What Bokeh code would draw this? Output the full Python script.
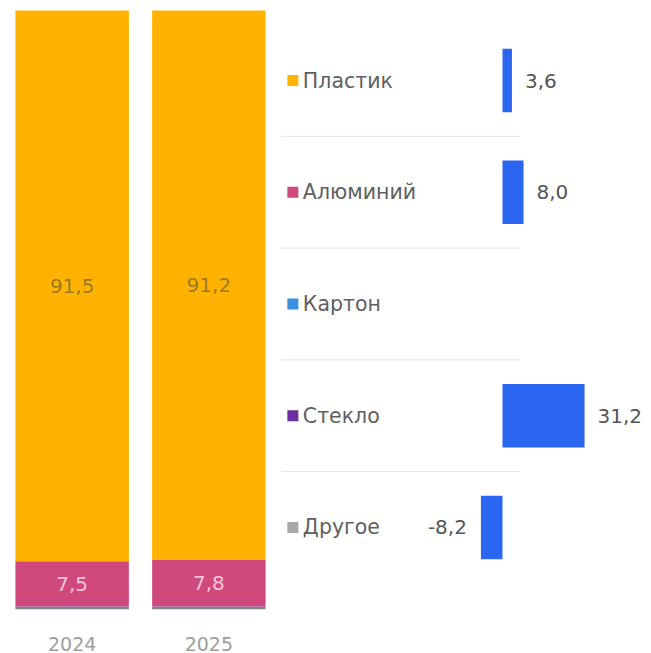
from bokeh.plotting import figure
from bokeh.layouts import row
from bokeh.models import Range1d, FactorRange, ColumnDataSource
from bokeh.core.properties import value
from bokeh.embed import file_html
from bokeh.resources import INLINE

# ---- data ----
years = ["2024", "2025"]
materials = ["Пластик", "Алюминий", "Картон", "Стекло", "Другое"]
share_plastic = [91.5, 91.2]
share_aluminium = [7.5, 7.8]
share_carton = [0.05, 0.05]
share_glass = [0.05, 0.05]
share_other = [0.4, 0.4]
change = [3.6, 8.0, None, 31.2, -8.2]
material_colors = ["#FFB300", "#D0497C", "#3B8FE0", "#6A2F9E", "#A8A8A8"]

FONT = "DejaVu Sans"
H = 653

def fmt(v):
    return f"{v:.1f}".replace(".", ",")

def style_bottom_axis(fig, color):
    fig.xaxis.axis_line_color = None
    fig.xaxis.major_tick_line_color = None
    fig.xaxis.minor_tick_line_color = None
    fig.xaxis.major_label_text_font = FONT
    fig.xaxis.major_label_text_font_size = "19px"
    fig.xaxis.major_label_text_color = color
    fig.xaxis.major_label_standoff = 21

# ---- left: stacked shares ----
left = figure(x_range=FactorRange(*years, range_padding=0.024, range_padding_units="absolute"),
              y_range=Range1d(0, 101.16),
              width=280, height=H, output_backend="svg", toolbar_location=None,
              min_border_left=0, min_border_right=0, min_border_top=0, min_border_bottom=0)

src = ColumnDataSource(dict(year=years, Другое=share_other, Стекло=share_glass, Картон=share_carton,
                            Алюминий=share_aluminium, Пластик=share_plastic))
stack_order = ["Другое", "Стекло", "Картон", "Алюминий", "Пластик"]
stack_colors = ["#7E868C", "#6A2F9E", "#3B8FE0", "#D0497C", "#FFB300"]
left.vbar_stack(stack_order, x="year", width=0.83, color=stack_colors, line_color=None, source=src)

bottoms_pl = [o + g + c + a for o, g, c, a in zip(share_other, share_glass, share_carton, share_aluminium)]
bottoms_al = [o + g + c for o, g, c in zip(share_other, share_glass, share_carton)]
lab_pl = ColumnDataSource(dict(x=years, y=[b + v / 2 for b, v in zip(bottoms_pl, share_plastic)],
                               t=[fmt(v) for v in share_plastic]))
lab_al = ColumnDataSource(dict(x=years, y=[b + v / 2 for b, v in zip(bottoms_al, share_aluminium)],
                               t=[fmt(v) for v in share_aluminium]))
left.text(x="x", y="y", text="t", source=lab_pl, text_align="center", text_baseline="middle",
          text_font=value(FONT), text_font_size="20px", text_color="#9A7B1E")
left.text(x="x", y="y", text="t", source=lab_al, text_align="center", text_baseline="middle",
          text_font=value(FONT), text_font_size="20px", text_color="#F6C6D8")

left.yaxis.visible = False
style_bottom_axis(left, "#9E9E9E")
left.grid.visible = False
left.outline_line_color = None

# ---- right: change bars with legend ----
idx = list(range(len(materials)))
right = figure(x_range=Range1d(-84.4, 56.65), y_range=Range1d(4.734, -0.716),
               width=371, height=H, output_backend="svg", toolbar_location=None,
               min_border_left=0, min_border_right=0, min_border_top=0, min_border_bottom=0)
right.yaxis.visible = False
style_bottom_axis(right, None)
right.grid.visible = False
right.outline_line_color = None

# separators between rows
right.segment(x0=-84.4, x1=6.8, y0=[i + 0.5 for i in idx[:-1]], y1=[i + 0.5 for i in idx[:-1]],
              line_color="#E6E6E6", line_width=1)

# legend
legend_x = -79.7
right.scatter(x=[legend_x] * len(materials), y=idx, marker="square", size=11,
              color=material_colors, line_color=None)
right.text(x=[legend_x] * len(materials), y=idx, text=materials, x_offset=10,
           text_align="left", text_baseline="middle", text_font=value(FONT),
           text_font_size="20.5px", text_color="#606060")

bar_y = [i for i, v in zip(idx, change) if v is not None]
bar_v = [v for v in change if v is not None]
right.hbar(y=bar_y, left=0, right=bar_v, height=0.57, color="#2B66F0", line_color=None)

pos = [(i, v) for i, v in zip(bar_y, bar_v) if v >= 0]
neg = [(i, v) for i, v in zip(bar_y, bar_v) if v < 0]
right.text(x=[v for _, v in pos], y=[i for i, _ in pos], text=[fmt(v) for _, v in pos],
           x_offset=13, text_align="left", text_baseline="middle", text_font=value(FONT),
           text_font_size="20px", text_color="#555555")
right.text(x=[v for _, v in neg], y=[i for i, _ in neg], text=[fmt(v) for _, v in neg],
           x_offset=-14, text_align="right", text_baseline="middle", text_font=value(FONT),
           text_font_size="20px", text_color="#555555")

layout = row(left, right)
open("out.html", "w").write(file_html(layout, INLINE))
